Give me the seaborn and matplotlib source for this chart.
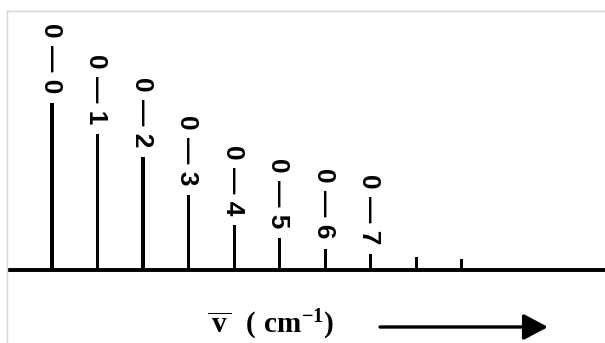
import pandas as pd
import matplotlib
matplotlib.use('Agg')
import matplotlib.pyplot as plt
import seaborn as sns

# datos del espectro (intensidad relativa, banda 0-0 = 100)
band = [0, 1, 2, 3, 4, 5, 6, 7, 8, 9]
intensity = [100, 81.4, 67.7, 44.9, 26.9, 18.9, 12.6, 9.6, 7.8, 6.6]
band_labels = ['0 — 0', '0 — 1', '0 — 2', '0 — 3', '0 — 4', '0 — 5', '0 — 6', '0 — 7']

sns.set_style('white')
plt.rcParams['font.family'] = ['Liberation Sans', 'DejaVu Sans']
plt.rcParams['mathtext.fontset'] = 'custom'
plt.rcParams['mathtext.rm'] = 'Liberation Serif:bold'
plt.rcParams['mathtext.it'] = 'Liberation Serif:bold'
plt.rcParams['mathtext.bf'] = 'Liberation Serif:bold'

fig = plt.figure(figsize=(6.05, 3.43), dpi=100)
ax = fig.add_axes([7 / 605, 0, 598 / 605, 332 / 343])

df = pd.DataFrame({'band': band, 'intensity': intensity})
sns.barplot(data=df, x='band', y='intensity', native_scale=True, width=0.07,
            color='black', saturation=1, errorbar=None, linewidth=0, ax=ax)

ax.axhline(0, color='black', lw=2.8)

for b, h, lab in zip(band, intensity, band_labels):
    ax.annotate(lab, xy=(b, h), xytext=(-1.5, 10), textcoords='offset pixels',
                rotation=-90, ha='center', va='bottom', fontsize=19,
                fontweight='bold', color='black')

ax.set_xlim(-0.99, 12.15)
ax.set_ylim(-43.7, 155.1)
ax.set_xticks([])
ax.set_yticks([])
ax.set_xlabel('')
ax.set_ylabel('')
for s in ['right', 'bottom']:
    ax.spines[s].set_visible(False)
for s in ['left', 'top']:
    ax.spines[s].set_color('#d6d6d6')
    ax.spines[s].set_linewidth(1)

# etiqueta del eje y flecha
fig.text(207 / 605, 10 / 343, r'$\overline{\,\mathrm{v}\,}\ \ (\ \mathrm{cm}^{-1})$',
         ha='left', va='baseline', fontsize=21, color='black')
ax.annotate('', xy=(548, 16), xytext=(380, 16), xycoords='figure pixels',
            textcoords='figure pixels',
            arrowprops=dict(arrowstyle='-|>,head_length=1.0,head_width=0.53',
                            mutation_scale=15, lw=2.4, color='black',
                            shrinkA=0, shrinkB=0))

fig.savefig('out.png', dpi=100)
